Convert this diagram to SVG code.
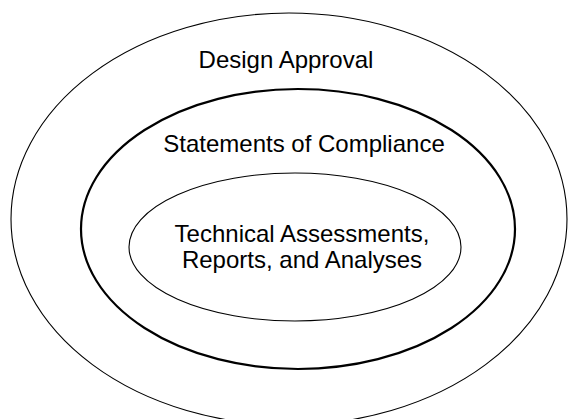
<svg xmlns="http://www.w3.org/2000/svg" width="568" height="419" viewBox="0 0 568 419">
<style>
.e{fill:none;stroke:#000}
.t{font-family:"Liberation Sans",Arial,sans-serif;font-size:24px;fill:#000;text-anchor:middle}
</style>
<rect width="568" height="419" fill="#fff"/>
<g id="design-approval">
<ellipse class="e" cx="289" cy="219" rx="278" ry="206" stroke-width="1.1"/>
<text class="t" x="286" y="68">Design Approval</text>
</g>
<g id="statements-of-compliance">
<ellipse class="e" cx="298" cy="229" rx="217" ry="140" stroke-width="2.2"/>
<text class="t" x="304" y="152">Statements of Compliance</text>
</g>
<g id="technical-assessments">
<ellipse class="e" cx="295" cy="247" rx="166" ry="74" stroke-width="1.1"/>
<text class="t" x="302" y="242">Technical Assessments,</text>
<text class="t" x="302" y="268">Reports, and Analyses</text>
</g>
<g id="connectors"/>
</svg>
